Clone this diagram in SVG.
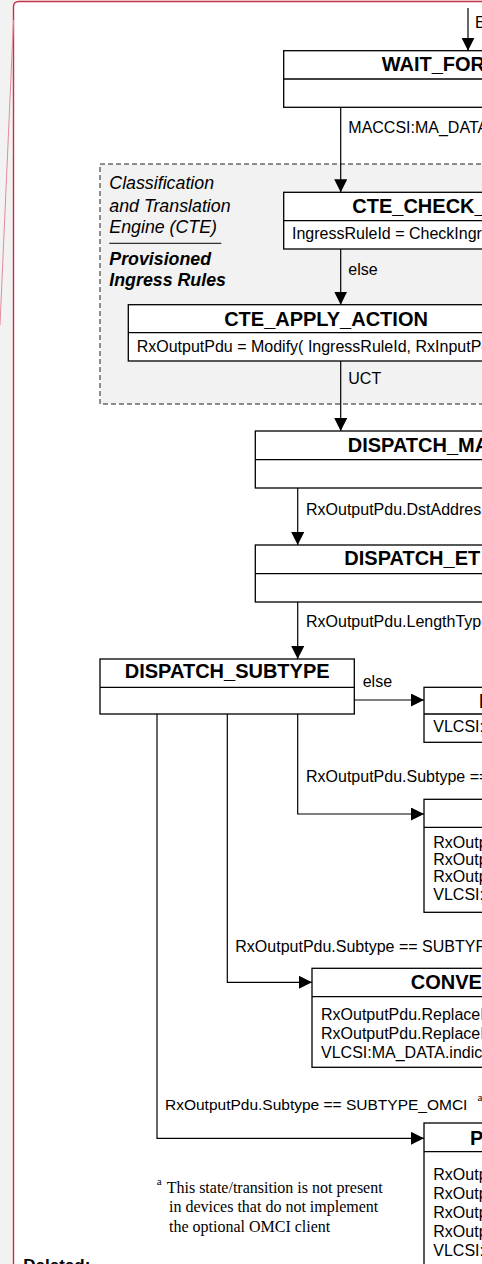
<svg xmlns="http://www.w3.org/2000/svg" width="482" height="1264" viewBox="0 0 482 1264">
<style>
.box{fill:#fff;stroke:#000;stroke-width:1.3}
.div{stroke:#000;stroke-width:1.3}
.t{font-family:"Liberation Sans",Arial,sans-serif;font-weight:bold;font-size:20px;fill:#000}
.l{font-family:"Liberation Sans",Arial,sans-serif;font-size:16px;fill:#000}
.i{font-family:"Liberation Sans",Arial,sans-serif;font-style:italic;font-size:17.8px;fill:#000}
.bi{font-family:"Liberation Sans",Arial,sans-serif;font-style:italic;font-weight:bold;font-size:17.8px;fill:#000}
.f{font-family:"Liberation Serif","Times New Roman",serif;font-size:16px;fill:#000}
.sup{font-family:"Liberation Serif","Times New Roman",serif;font-size:11px;fill:#000}
.c{fill:none;stroke:#000;stroke-width:1.2}
</style>
<defs>
<marker id="ah" markerUnits="userSpaceOnUse" markerWidth="13" markerHeight="13" viewBox="0 0 12 12" refX="12" refY="6" orient="auto">
<path d="M0,0 L12,6 L0,12 Z" fill="#000"/>
</marker>
</defs>
<rect x="0" y="0" width="482" height="1264" fill="#f2f2f2"/>
<path d="M13.5,1264 L13.5,7 Q13.5,1.5 19,1.5 L482,1.5 L482,1264 Z" fill="#fff"/>
<path d="M13.5,1264 L13.5,7 Q13.5,1.5 19,1.5 L482,1.5" fill="none" stroke="#c4314b" stroke-width="1.4"/>
<line x1="13.5" y1="20" x2="0" y2="325" stroke="#e28aa0" stroke-width="1"/>

<g id="cte-region">
<rect x="100" y="164" width="420" height="240" fill="#f2f2f2" stroke="#222" stroke-width="1" stroke-dasharray="5,3"/>
<text class="i" x="109.3" y="189.3">Classification</text>
<text class="i" x="109.3" y="211.7">and Translation</text>
<text class="i" x="109.3" y="232.7">Engine (CTE)</text>
<line x1="109.3" y1="243.3" x2="221.3" y2="243.3" stroke="#000" stroke-width="1"/>
<text class="bi" x="109.3" y="265">Provisioned</text>
<text class="bi" x="109.3" y="286">Ingress Rules</text>
</g>

<g id="connectors">
<line class="c" x1="468" y1="8" x2="468" y2="50.7" marker-end="url(#ah)"/>
<text class="l" x="475" y="28">E</text>
<line class="c" x1="340.7" y1="107.3" x2="340.7" y2="192.3" marker-end="url(#ah)"/>
<text class="l" x="348.3" y="133.3">MACCSI:MA_DATA</text>
<line class="c" x1="340.7" y1="249" x2="340.7" y2="304.7" marker-end="url(#ah)"/>
<text class="l" x="348.3" y="275">else</text>
<line class="c" x1="340.7" y1="361" x2="340.7" y2="431" marker-end="url(#ah)"/>
<text class="l" x="348.3" y="384">UCT</text>
<line class="c" x1="297.7" y1="488" x2="297.7" y2="545" marker-end="url(#ah)"/>
<text class="l" x="306" y="515">RxOutputPdu.DstAddress</text>
<line class="c" x1="297.7" y1="602" x2="297.7" y2="659" marker-end="url(#ah)"/>
<text class="l" x="306" y="627.3">RxOutputPdu.LengthType</text>
<line class="c" x1="354.3" y1="700" x2="424" y2="700" marker-end="url(#ah)"/>
<text class="l" x="362.7" y="687.3">else</text>
<polyline class="c" points="297.7,714 297.7,814 424,814" marker-end="url(#ah)"/>
<text class="l" x="306" y="782.3">RxOutputPdu.Subtype ==</text>
<polyline class="c" points="227.3,714 227.3,982.3 312,982.3" marker-end="url(#ah)"/>
<text class="l" x="235.3" y="951.7">RxOutputPdu.Subtype == SUBTYPE</text>
<polyline class="c" points="157,714 157,1138.3 424,1138.3" marker-end="url(#ah)"/>
<text class="l" x="165" y="1110" style="font-size:15.5px">RxOutputPdu.Subtype == SUBTYPE_OMCI</text>
<text class="sup" x="477.5" y="1101">a</text>
</g>

<g id="wait-for">
<rect class="box" x="283.7" y="50.7" width="300" height="56.6"/>
<line class="div" x1="283.7" y1="79" x2="584" y2="79"/>
<text class="t" x="381.7" y="70.7">WAIT_FOR</text>
</g>

<g id="cte-check">
<rect class="box" x="283.7" y="192.3" width="300" height="56.7"/>
<line class="div" x1="283.7" y1="220.7" x2="584" y2="220.7"/>
<text class="t" x="352.3" y="213.3">CTE_CHECK_</text>
<text class="l" x="292" y="239.3">IngressRuleId = CheckIngr</text>
</g>

<g id="cte-apply-action">
<rect class="box" x="128.3" y="304.7" width="395.4" height="56.3"/>
<line class="div" x1="128.3" y1="332.7" x2="524" y2="332.7"/>
<text class="t" x="326" y="325.7" text-anchor="middle">CTE_APPLY_ACTION</text>
<text class="l" x="136.7" y="351.7">RxOutputPdu = Modify( IngressRuleId, RxInputPdu</text>
</g>

<g id="dispatch-ma">
<rect class="box" x="255.3" y="431" width="300" height="57"/>
<line class="div" x1="255.3" y1="459.7" x2="556" y2="459.7"/>
<text class="t" x="347.7" y="451.7">DISPATCH_MA</text>
</g>

<g id="dispatch-et">
<rect class="box" x="255.3" y="545" width="300" height="57"/>
<line class="div" x1="255.3" y1="573.7" x2="556" y2="573.7"/>
<text class="t" x="344.3" y="565">DISPATCH_ET</text>
</g>

<g id="dispatch-subtype">
<rect class="box" x="100" y="659" width="254.3" height="55"/>
<line class="div" x1="100" y1="687.3" x2="354.3" y2="687.3"/>
<text class="t" x="227.2" y="677.7" text-anchor="middle">DISPATCH_SUBTYPE</text>
</g>

<g id="else-state">
<rect class="box" x="424" y="687.3" width="200" height="55"/>
<line class="div" x1="424" y1="714" x2="624" y2="714"/>
<text class="t" x="479" y="708">D</text>
<text class="l" x="433.3" y="732.3">VLCSI:</text>
</g>

<g id="subtype-state">
<rect class="box" x="424" y="799.3" width="200" height="113"/>
<line class="div" x1="424" y1="827.3" x2="624" y2="827.3"/>
<text class="l" x="433.3" y="848">RxOutp</text>
<text class="l" x="433.3" y="865">RxOutp</text>
<text class="l" x="433.3" y="882">RxOutp</text>
<text class="l" x="433.3" y="899.5">VLCSI:</text>
</g>

<g id="convert-state">
<rect class="box" x="312" y="968.3" width="300" height="99"/>
<line class="div" x1="312" y1="996.7" x2="612" y2="996.7"/>
<text class="t" x="410.7" y="989.3">CONVE</text>
<text class="l" x="321" y="1020">RxOutputPdu.ReplaceI</text>
<text class="l" x="321" y="1039">RxOutputPdu.ReplaceI</text>
<text class="l" x="321" y="1058">VLCSI:MA_DATA.indic</text>
</g>

<g id="omci-state">
<rect class="box" x="424" y="1123" width="200" height="160"/>
<line class="div" x1="424" y1="1151.7" x2="624" y2="1151.7"/>
<text class="t" x="470" y="1145">P</text>
<text class="l" x="433.3" y="1180">RxOutp</text>
<text class="l" x="433.3" y="1199">RxOutp</text>
<text class="l" x="433.3" y="1218">RxOutp</text>
<text class="l" x="433.3" y="1237">RxOutp</text>
<text class="l" x="433.3" y="1256">VLCSI:</text>
</g>

<g id="footnote">
<text class="sup" x="156.7" y="1185">a</text>
<text class="f" x="166.7" y="1192.5">This state/transition is not present</text>
<text class="f" x="169" y="1212.3">in devices that do not implement</text>
<text class="f" x="169" y="1232">the optional OMCI client</text>
</g>

<text x="23.3" y="1271" font-family="'Liberation Sans',Arial,sans-serif" font-weight="bold" font-size="17px">Deleted:</text>
</svg>
